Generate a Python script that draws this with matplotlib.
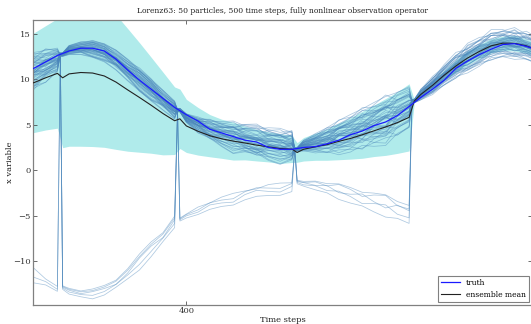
import numpy as np
import matplotlib
matplotlib.use("Agg")
import matplotlib.pyplot as plt

# ---- data -------------------------------------------------------------
steps = list(range(386, 431))
obs_steps = [389, 399, 409, 419]

truth = [10.8, 11.2, 11.9, 12.6, 13.1, 13.4, 13.4, 13.1, 12.2, 11.0,
         9.9, 8.9, 7.9, 6.9, 6.1, 5.4, 4.5, 4.1, 3.7, 3.3,
         3.1, 2.5, 2.3, 2.3, 2.5, 2.6, 2.9, 3.3, 3.9, 4.3,
         4.9, 5.3, 6.0, 7.0, 8.0, 8.9, 9.9, 11.2, 12.0, 12.7,
         13.3, 13.8, 13.9, 13.6, 13.2]

# centre and half-width of the main particle cloud (forecast values)
cloud_mid = [10.6, 10.9, 11.5, 12.1, 13.2, 13.4, 13.3, 12.9, 12.1, 11.0,
             9.9, 8.8, 7.7, 6.6, 5.7, 5.0, 4.4, 4.0, 3.7, 3.4,
             3.1, 2.9, 2.7, 2.6, 2.7, 3.0, 3.3, 3.7, 4.1, 4.6,
             5.1, 5.6, 6.2, 6.9, 8.3, 9.3, 10.4, 11.4, 12.3, 13.0,
             13.6, 13.9, 13.9, 13.6, 13.1]
cloud_spread = [2.2, 2.0, 1.7, 1.3, 0.5, 0.7, 0.9, 1.0, 1.1, 1.2,
                1.2, 1.2, 1.1, 1.0, 0.5, 0.8, 1.1, 1.3, 1.5, 1.6,
                1.7, 1.7, 1.7, 1.7, 0.6, 1.0, 1.4, 1.7, 2.0, 2.2,
                2.3, 2.4, 2.4, 2.3, 0.6, 0.9, 1.1, 1.3, 1.4, 1.5,
                1.5, 1.5, 1.5, 1.5, 1.5]
wobble = [0.3, -0.2, 0.25, -0.1, 0.1, -0.15, 0.25, 0.1, -0.3, -0.1,
          0.3, 0.2, -0.25, 0.1, 0.15, -0.2, 0.3, -0.1, -0.35, 0.2,
          0.4, -0.1, -0.3, 0.2, -0.15, 0.2, -0.2, 0.35, 0.1, -0.3,
          0.15, 0.4, -0.2, -0.1, 0.1, -0.2, 0.2, 0.3, -0.3, -0.1,
          0.35, 0.1, -0.3, 0.2, 0.0]

# mirrored (sign-flipped) particles, centre and half-width
mirror_mid = [-10.8, -11.5, -12.2, -13.0, -13.3, -13.6, -13.6, -13.2, -12.5, -11.4,
              -10.1, -8.7, -7.4, -5.7, -5.0, -4.4, -3.9, -3.4, -3.1, -2.7,
              -2.4, -2.1, -2.0, -1.8, -1.5, -1.7, -2.0, -2.4, -2.8, -3.2,
              -3.6, -4.0, -4.4, -4.9, np.nan, np.nan, np.nan, np.nan, np.nan, np.nan,
              np.nan, np.nan, np.nan, np.nan, np.nan]
mirror_spread = [1.0, 0.8, 0.6, 0.3, 0.3, 0.4, 0.45, 0.5, 0.6, 0.65,
                 0.7, 0.7, 0.7, 0.6, 0.3, 0.45, 0.55, 0.6, 0.65, 0.7,
                 0.7, 0.7, 0.7, 0.7, 0.3, 0.45, 0.6, 0.75, 0.85, 0.95,
                 1.0, 1.05, 1.1, 1.1, 0.0, 0.0, 0.0, 0.0, 0.0, 0.0,
                 0.0, 0.0, 0.0, 0.0, 0.0]

# analysis values after each observation
analysis_cloud = [12.7, 6.6, 2.3, 7.6]
analysis_mirror = [-12.9, -5.4, -1.3, np.nan]

# particles sitting on the mirrored branch in each assimilation window
mirror_members = [[0, 1, 2], [3, 4, 5, 6, 7], [8, 9, 10, 11],
                  [12, 13, 14, 15, 16], []]

# per-particle position within the cloud and its jitter weight
particle_rank = [-0.05, 0.42, -0.61, 0.18, 0.88, -0.27, 0.03, -0.93, 0.55, -0.38,
                 0.12, 0.71, -0.14, -0.72, 0.33, 0.95, -0.49, 0.08, -0.2, 0.62,
                 -0.83, 0.26, -0.01, 0.47, -0.56, 0.15, -0.33, 0.79, -0.09, 0.38,
                 -0.68, 0.21, -1.0, 0.52, -0.24, 0.06, 0.66, -0.43, 0.29, -0.77,
                 0.1, 0.85, -0.17, -0.52, 0.36, -0.11, 0.58, -0.3, 0.0, 1.0]
particle_jitter = [0.6, -0.8, 0.2, 0.9, -0.4, -0.1, 0.7, -0.6, 0.3, -0.9,
                   0.5, 0.0, -0.3, 0.8, -0.7, 0.4, -0.2, 1.0, -0.5, 0.1,
                   0.9, -1.0, 0.3, -0.4, 0.6, -0.8, 0.2, -0.1, 0.7, -0.6,
                   0.5, 0.8, -0.3, -0.9, 0.4, 0.1, -0.7, 0.6, -0.2, 0.3,
                   -0.5, 0.9, -0.8, 0.2, 0.0, -0.4, 0.7, -0.6, 0.5, -0.1]
mirror_rank = [-0.9, 0.7, -0.2, 0.3, 1.0]
mirror_jit = [0.8, -0.9, 0.5, -0.4, 1.0]

n_particles = 50

# ---- assemble particle trajectories ----------------------------------
times, kinds = [], []
for k, s in enumerate(steps):
    times.append(s); kinds.append(("step", k))
    if s in obs_steps:
        j = obs_steps.index(s)
        times.append(s + 0.25); kinds.append(("pull", j))
        times.append(s + 0.45); kinds.append(("analysis", j))
times = np.array(times, dtype=float)

P = np.zeros((n_particles, len(times)))
for col, (kind, idx) in enumerate(kinds):
    if kind == "step":
        c = sum(o < steps[idx] for o in obs_steps)
        members = mirror_members[c]
        for i in range(n_particles):
            if i in members:
                m = members.index(i)
                P[i, col] = mirror_mid[idx] + mirror_spread[idx] * (
                    mirror_rank[m] + 1.2 * mirror_jit[(m + c) % 5] * wobble[idx])
            else:
                r = particle_rank[(i + 17 * c) % n_particles]
                jt = particle_jitter[(i + 29 * c) % n_particles]
                P[i, col] = cloud_mid[idx] + cloud_spread[idx] * (r + 1.0 * jt * wobble[idx])
    else:
        j = idx
        members = mirror_members[j + 1]
        for i in range(n_particles):
            r = particle_rank[(i + 17 * (j + 1)) % n_particles]
            if kind == "analysis" and i in members:
                m = members.index(i)
                P[i, col] = analysis_mirror[j] + 0.2 * mirror_rank[m]
            else:
                P[i, col] = analysis_cloud[j] + 0.2 * r

keep = np.array([k[0] != "pull" for k in kinds])
ens_mean = P.mean(axis=0)
ens_std = P.std(axis=0)

# ---- figure -----------------------------------------------------------
plt.rcParams["font.family"] = ["DejaVu Serif"]
plt.rcParams["xtick.direction"] = "in"
plt.rcParams["ytick.direction"] = "in"

fig = plt.figure(figsize=(5.31, 3.24), dpi=100)
ax = fig.add_axes([33 / 531, 1 - 305 / 324, 1.002 - 33 / 531, 285 / 324])

ax.fill_between(times[keep], ens_mean[keep] - ens_std[keep],
                ens_mean[keep] + ens_std[keep],
                color="#b0ebeb", lw=0, zorder=1)
for i in range(n_particles):
    ax.plot(times, P[i], color="#4a86bb", lw=0.55, alpha=0.45, zorder=2)
ax.plot(steps, truth, color="#1a1aff", lw=0.9, zorder=4, label="truth")
ax.plot(times[keep], ens_mean[keep], color="#222222", lw=0.8, zorder=3,
        label="ensemble mean")

ax.set_xlim(386.92, 429.49)
ax.set_ylim(-14.8, 16.5)
ax.set_xticks([400])
ax.set_yticks([-10, -5, 0, 5, 10, 15])
ax.tick_params(labelsize=6, length=3, width=0.5, colors="#333333",
               top=True, right=True, pad=1.5)
for sp in ax.spines.values():
    sp.set_color("#808080")
    sp.set_linewidth(0.9)

ax.set_title("Lorenz63: 50 particles, 500 time steps, fully nonlinear observation operator",
             fontsize=5.5, color="#222222", pad=5)
ax.set_xlabel("Time steps", fontsize=6, color="#222222", labelpad=0.5)
ax.set_ylabel("x variable", fontsize=6, color="#222222")
ax.yaxis.set_label_coords(-0.039, 0.5)

leg = ax.legend(loc="lower right", fontsize=5.5, handlelength=2.5,
                fancybox=False, framealpha=1, borderaxespad=0.4)
leg.get_frame().set_edgecolor("#808080")
leg.get_frame().set_linewidth(0.8)

fig.savefig("out.png", dpi=100)
